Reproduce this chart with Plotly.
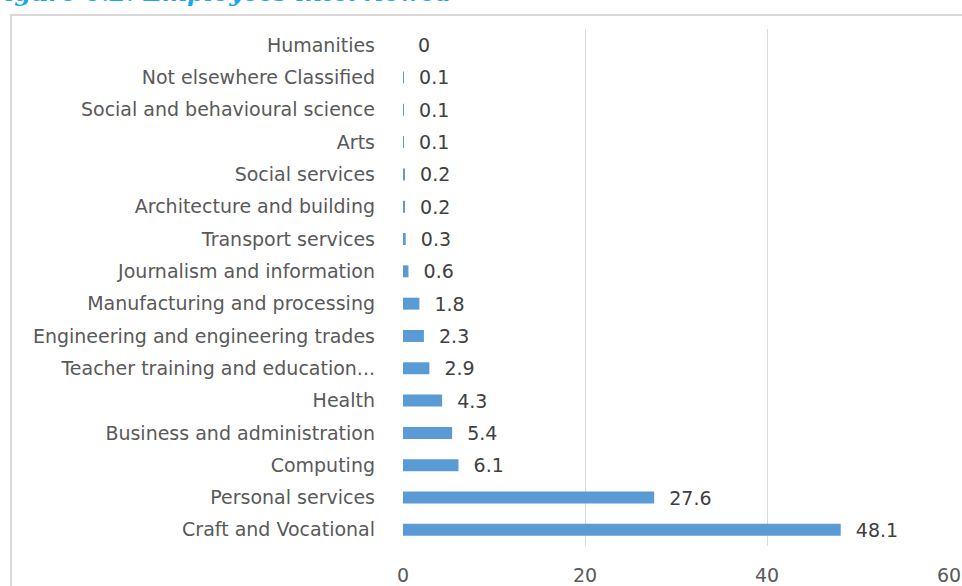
import plotly.graph_objects as go

categories = [
    "Craft and Vocational",
    "Personal services",
    "Computing",
    "Business and administration",
    "Health",
    "Teacher training and education...",
    "Engineering and engineering trades",
    "Manufacturing and processing",
    "Journalism and information",
    "Transport services",
    "Architecture and building",
    "Social services",
    "Arts",
    "Social and behavioural science",
    "Not elsewhere Classified",
    "Humanities",
]
values = [48.1, 27.6, 6.1, 5.4, 4.3, 2.9, 2.3, 1.8, 0.6, 0.3, 0.2, 0.2, 0.1, 0.1, 0.1, 0]
x_ticks = [0, 20, 40, 60]
title_text = "Figure 6.2: Employees interviewed"

labels = ["\u00a0\u00a0" + f"{v:g}" for v in values]

font_family = "DejaVu Sans"
text_color = "#595959"

fig = go.Figure(
    go.Bar(
        x=values,
        y=categories,
        orientation="h",
        marker=dict(color="#5B9BD5", line=dict(width=0)),
        text=labels,
        textposition="outside",
        constraintext="none",
        textfont=dict(family=font_family, size=19, color="#404040"),
        cliponaxis=False,
        width=0.37,
    )
)

W, H = 962, 586
plot_l, plot_r, plot_t = 403, 13, 29
plot_b = H - 546
pw = W - plot_l - plot_r
ph = H - plot_t - plot_b

def px_to_paper_x(px):
    return (px - plot_l) / pw

def px_to_paper_y(py):
    return 1 + (plot_t - py) / ph

fig.update_layout(
    width=W,
    height=H,
    margin=dict(l=plot_l, r=plot_r, t=plot_t, b=plot_b, autoexpand=False),
    paper_bgcolor="white",
    plot_bgcolor="white",
    showlegend=False,
    font=dict(family=font_family, size=19, color=text_color),
    xaxis=dict(
        range=[0, 60],
        tickvals=x_ticks,
        showgrid=True,
        gridcolor="#D9D9D9",
        gridwidth=1,
        zeroline=False,
        showline=False,
        automargin=False,
        ticklabelstandoff=16,
        tickfont=dict(family=font_family, size=19, color=text_color),
        fixedrange=True,
    ),
    yaxis=dict(
        categoryorder="array",
        categoryarray=categories,
        range=[-0.5, 15.5],
        showgrid=False,
        zeroline=False,
        showline=False,
        automargin=False,
        ticklabelstandoff=27,
        tickfont=dict(family=font_family, size=19, color=text_color),
        fixedrange=True,
    ),
    annotations=[
        dict(
            text="<b><i>" + title_text + "</i></b>",
            xref="paper",
            yref="paper",
            x=px_to_paper_x(-15),
            y=px_to_paper_y(-8),
            xanchor="left",
            yanchor="middle",
            showarrow=False,
            font=dict(family="DejaVu Serif", size=24, color="#1AA7EC"),
        )
    ],
    shapes=[
        dict(
            type="rect",
            xref="paper",
            yref="paper",
            x0=px_to_paper_x(11),
            x1=px_to_paper_x(975),
            y0=px_to_paper_y(15),
            y1=px_to_paper_y(610),
            line=dict(color="#D9D9D9", width=2),
            fillcolor="rgba(0,0,0,0)",
            layer="below",
        )
    ],
)

fig.write_html(
    "out.html",
    config={"displayModeBar": False},
    post_script="document.body.style.margin='0';document.body.style.overflow='hidden';",
)
